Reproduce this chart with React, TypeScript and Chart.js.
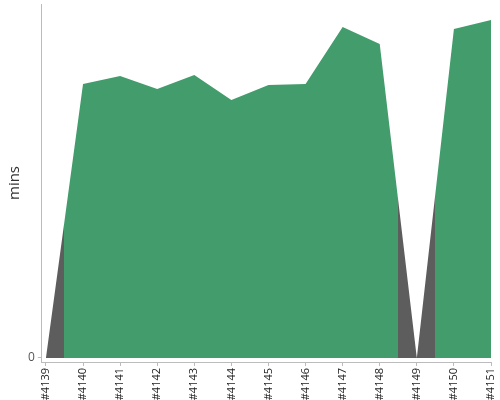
import React, { useEffect, useRef } from "react";
import { Chart, registerables } from "chart.js";

Chart.register(...registerables);

const builds = ["#4139", "#4140", "#4141", "#4142", "#4143", "#4144", "#4145", "#4146", "#4147", "#4148", "#4149", "#4150", "#4151"];
const durations = [0, 17.03, 17.53, 16.72, 17.59, 16.03, 16.97, 17.03, 20.57, 19.51, 0, 20.45, 21.01];
const results = ["FAILURE", "SUCCESS", "SUCCESS", "SUCCESS", "SUCCESS", "SUCCESS", "SUCCESS", "SUCCESS", "SUCCESS", "SUCCESS", "FAILURE", "SUCCESS", "SUCCESS"];
const yTicks = [0];

const GREEN = "#439c6c";
const GRAY = "#5d5d5d";
const AXIS = "#bbbbbb";

function colorFor(r: string) {
  return r === "SUCCESS" ? GREEN : GRAY;
}

const noPad = (axis: any) => {
  axis.paddingTop = 0;
  axis.paddingBottom = 0;
  axis.paddingLeft = 0;
  axis.paddingRight = 0;
};

export default function App() {
  const ref = useRef<HTMLCanvasElement | null>(null);
  useEffect(() => {
    document.body.style.margin = "0";
    const canvas = ref.current!;
    const chart = new Chart(canvas, {
      type: "line",
      data: {
        datasets: [
          {
            data: durations.map((v, i) => ({ x: i, y: v })),
            fill: "origin",
            borderWidth: 0,
            pointRadius: 0,
            tension: 0,
            backgroundColor: (ctx: any) => {
              const c = ctx.chart;
              const area = c.chartArea;
              if (!area) return GREEN;
              const xs = c.scales.x;
              const g = c.ctx.createLinearGradient(area.left, 0, area.right, 0);
              const w = area.right - area.left;
              const clamp = (f: number) => Math.max(0, Math.min(1, f));
              results.forEach((r, i) => {
                const a = clamp((xs.getPixelForValue(i - 0.5) - area.left) / w);
                const b = clamp((xs.getPixelForValue(i + 0.5) - area.left) / w);
                const col = colorFor(r);
                g.addColorStop(a, col);
                g.addColorStop(b, col);
              });
              return g;
            },
          },
        ],
      },
      options: {
        animation: false,
        responsive: true,
        maintainAspectRatio: false,
        layout: { padding: { left: 6, right: 9, top: 4, bottom: 0 } },
        plugins: { legend: { display: false }, tooltip: { enabled: false } },
        scales: {
          x: {
            type: "linear",
            min: -0.11,
            max: builds.length - 1,
            afterBuildTicks: (axis: any) => {
              axis.ticks = builds.map((_, i) => ({ value: i }));
            },
            afterFit: (axis: any) => {
              noPad(axis);
              axis.height = 38;
            },
            grid: { drawOnChartArea: false, drawTicks: true, tickLength: 4, color: AXIS },
            border: { color: AXIS },
            ticks: {
              autoSkip: false,
              minRotation: 90,
              maxRotation: 90,
              padding: 2,
              color: "#222",
              font: { family: "'Open Sans'", size: 11 },
              callback: (v: any) => builds[v],
            },
          },
          y: {
            type: "linear",
            min: -0.25,
            max: 22,
            afterBuildTicks: (axis: any) => {
              axis.ticks = yTicks.map((v) => ({ value: v }));
            },
            afterFit: noPad,
            grid: { drawOnChartArea: false, drawTicks: true, tickLength: 4, color: AXIS },
            border: { color: AXIS },
            ticks: {
              color: "#555",
              padding: 3,
              font: { family: "'Open Sans'", size: 12 },
            },
            title: {
              display: true,
              text: "mins",
              color: "#333",
              font: { family: "'Open Sans'", size: 15 },
              padding: { top: 0, bottom: 1 },
            },
          },
        },
      },
    } as any);
    return () => chart.destroy();
  }, []);
  return (
    <div style={{ width: 500, height: 400, position: "relative" }}>
      <canvas ref={ref} />
    </div>
  );
}
